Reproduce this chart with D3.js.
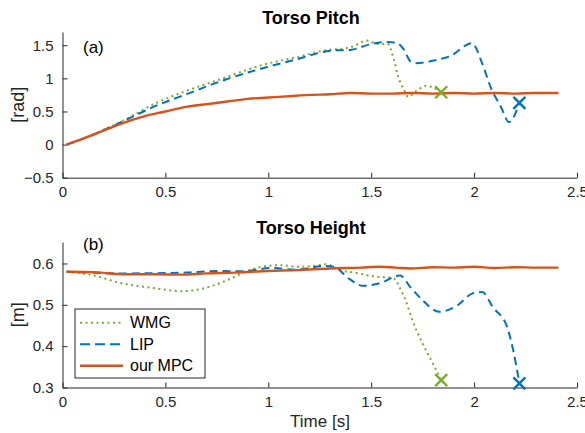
<!DOCTYPE html>
<html>
<head>
<meta charset="utf-8">
<script src="https://cdn.jsdelivr.net/npm/d3@7"></script>
<style>
  body { margin: 0; background: #fff; }
  svg { font-family: "Liberation Sans", Arial, sans-serif; }
  .axis path, .axis line { stroke: #262626; }
  .axis text { fill: #262626; font-size: 15px; }
</style>
</head>
<body>
<div id="chart"></div>
<script>
// data
var seriesNames = ["WMG", "LIP", "our MPC"];
var seriesColors = ["#77AC30", "#0072BD", "#D95319"];

// Torso pitch [rad]
var wmgPitchT = [0.02,0.1,0.2,0.3,0.45,0.61,0.77,0.86,0.98,1.14,1.27,1.40,1.48,1.53,1.58,1.61,1.63,1.66,1.68,1.72,1.77,1.80,1.84];
var wmgPitch  = [0,0.09,0.22,0.37,0.62,0.82,0.99,1.09,1.21,1.32,1.42,1.47,1.57,1.52,1.52,1.29,1.04,0.82,0.72,0.81,0.89,0.86,0.79];

var lipPitchT = [0.02,0.1,0.2,0.3,0.45,0.61,0.79,0.97,1.14,1.31,1.40,1.49,1.58,1.62,1.66,1.69,1.72,1.82,1.88,1.99,2.04,2.08,2.13,2.17,2.22];
var lipPitch  = [0,0.09,0.22,0.36,0.58,0.77,0.98,1.15,1.29,1.42,1.43,1.51,1.55,1.54,1.43,1.26,1.23,1.28,1.33,1.53,1.22,0.87,0.57,0.34,0.63];

var mpcPitchT = [0.02,0.1,0.2,0.3,0.4,0.5,0.6,0.7,0.8,0.9,1.0,1.1,1.2,1.3,1.4,1.5,1.6,1.7,1.8,1.9,2.0,2.1,2.2,2.3,2.41];
var mpcPitch  = [0,0.09,0.21,0.33,0.43,0.50,0.57,0.61,0.65,0.69,0.71,0.73,0.75,0.76,0.78,0.77,0.77,0.78,0.77,0.78,0.77,0.78,0.77,0.78,0.78];

// Torso height [m]
var wmgHeightT = [0.02,0.125,0.29,0.45,0.58,0.71,0.82,0.91,0.99,1.06,1.14,1.22,1.28,1.35,1.43,1.51,1.61,1.64,1.67,1.70,1.75,1.80,1.84];
var wmgHeight  = [0.58,0.574,0.552,0.54,0.533,0.543,0.564,0.584,0.594,0.596,0.592,0.594,0.598,0.584,0.577,0.569,0.564,0.54,0.507,0.463,0.406,0.358,0.318];

var lipHeightT = [0.02,0.3,0.6,0.77,0.86,1.02,1.14,1.27,1.32,1.39,1.46,1.54,1.64,1.69,1.75,1.83,1.92,1.99,2.04,2.09,2.16,2.19,2.22];
var lipHeight  = [0.58,0.576,0.578,0.582,0.581,0.589,0.585,0.594,0.592,0.564,0.546,0.552,0.571,0.543,0.511,0.483,0.499,0.527,0.531,0.495,0.447,0.39,0.31];

var mpcHeightT = [0.02,0.15,0.3,0.45,0.58,0.7,0.84,1.0,1.14,1.3,1.45,1.54,1.62,1.69,1.8,1.9,2.0,2.1,2.2,2.3,2.41];
var mpcHeight  = [0.58,0.579,0.574,0.574,0.573,0.576,0.578,0.582,0.584,0.588,0.590,0.592,0.590,0.588,0.591,0.590,0.592,0.589,0.591,0.590,0.590];

var xTicks = [0,0.5,1,1.5,2,2.5];
var pitchTicks = [-0.5,0,0.5,1,1.5];
var heightTicks = [0.3,0.4,0.5,0.6];

function zip(t, v) { return t.map(function(d, i) { return {t: d, v: v[i]}; }); }

var W = 585, H = 433;
var svg = d3.select("#chart").append("svg").attr("width", W).attr("height", H);

var x = d3.scaleLinear().domain([0, 2.5]).range([62.5, 577]);

var dashes = ["2,3.5", "8,5", null];

function panel(cfg) {
  var y = d3.scaleLinear().domain(cfg.domain).range([cfg.bottom, cfg.top]);

  // axes, ticks pointing inside (matlab style)
  svg.append("g").attr("class", "axis")
    .attr("transform", "translate(0," + cfg.bottom + ")")
    .call(d3.axisBottom(x).tickValues(xTicks).tickFormat(d3.format("")).tickSizeInner(-5).tickSizeOuter(0).tickPadding(9));
  svg.append("g").attr("class", "axis")
    .attr("transform", "translate(" + x.range()[0] + ",0)")
    .call(d3.axisLeft(y).tickValues(cfg.ticks).tickFormat(d3.format("")).tickSizeInner(-5).tickSizeOuter(0).tickPadding(9));

  var line = d3.line()
    .x(function(d) { return x(d.t); })
    .y(function(d) { return y(d.v); })
    .curve(d3.curveMonotoneX);

  cfg.series.forEach(function(s, i) {
    svg.append("path")
      .attr("d", line(s))
      .attr("fill", "none")
      .attr("stroke", seriesColors[i])
      .attr("stroke-width", i == 2 ? 2.4 : 2)
      .attr("stroke-dasharray", dashes[i]);
  });

  // crosses at the fall point
  [0, 1].forEach(function(i) {
    var last = cfg.series[i][cfg.series[i].length - 1];
    var cx = x(last.t), cy = y(last.v), r = 6;
    svg.append("path")
      .attr("d", "M" + (cx - r) + "," + (cy - r) + "L" + (cx + r) + "," + (cy + r) +
                 "M" + (cx - r) + "," + (cy + r) + "L" + (cx + r) + "," + (cy - r))
      .attr("stroke", seriesColors[i])
      .attr("stroke-width", 2.4)
      .attr("fill", "none");
  });

  svg.append("text")
    .attr("x", 311).attr("y", cfg.top - 8)
    .attr("text-anchor", "middle")
    .style("font-size", "18px").style("font-weight", "bold")
    .text(cfg.title);

  svg.append("text")
    .attr("x", 83).attr("y", cfg.top + cfg.tagDy)
    .style("font-size", "17px").attr("fill", "#000")
    .text(cfg.tag);

  svg.append("text")
    .attr("transform", "translate(24," + ((cfg.top + cfg.bottom) / 2) + ") rotate(-90)")
    .attr("text-anchor", "middle")
    .style("font-size", "18px").attr("fill", "#262626")
    .text(cfg.ylabel);

  return y;
}

panel({
  top: 32, bottom: 177.7, domain: [-0.5, 1.7], ticks: pitchTicks,
  title: "Torso Pitch", tag: "(a)", tagDy: 21, ylabel: "[rad]",
  series: [zip(wmgPitchT, wmgPitch), zip(lipPitchT, lipPitch), zip(mpcPitchT, mpcPitch)]
});

panel({
  top: 242, bottom: 387.5, domain: [0.3, 0.652], ticks: heightTicks,
  title: "Torso Height", tag: "(b)", tagDy: 8, ylabel: "[m]",
  series: [zip(wmgHeightT, wmgHeight), zip(lipHeightT, lipHeight), zip(mpcHeightT, mpcHeight)]
});

svg.append("text")
  .attr("x", 320).attr("y", 427)
  .attr("text-anchor", "middle")
  .style("font-size", "17px").attr("fill", "#262626")
  .text("Time [s]");

// legend
var lg = svg.append("g").attr("transform", "translate(75,309)");
lg.append("rect").attr("width", 130).attr("height", 69)
  .attr("fill", "#fff").attr("stroke", "#262626").attr("stroke-width", 1);
seriesNames.forEach(function(n, i) {
  var yy = 13.7 + i * 21.5;
  lg.append("line").attr("x1", 5).attr("x2", 48).attr("y1", yy).attr("y2", yy)
    .attr("stroke", seriesColors[i]).attr("stroke-width", i == 2 ? 2.4 : 2)
    .attr("stroke-dasharray", i == 1 ? "10,5" : dashes[i]);
  lg.append("text").attr("x", 55).attr("y", yy + 5.5)
    .style("font-size", "16px").attr("fill", "#000").text(n);
});
</script>
</body>
</html>
